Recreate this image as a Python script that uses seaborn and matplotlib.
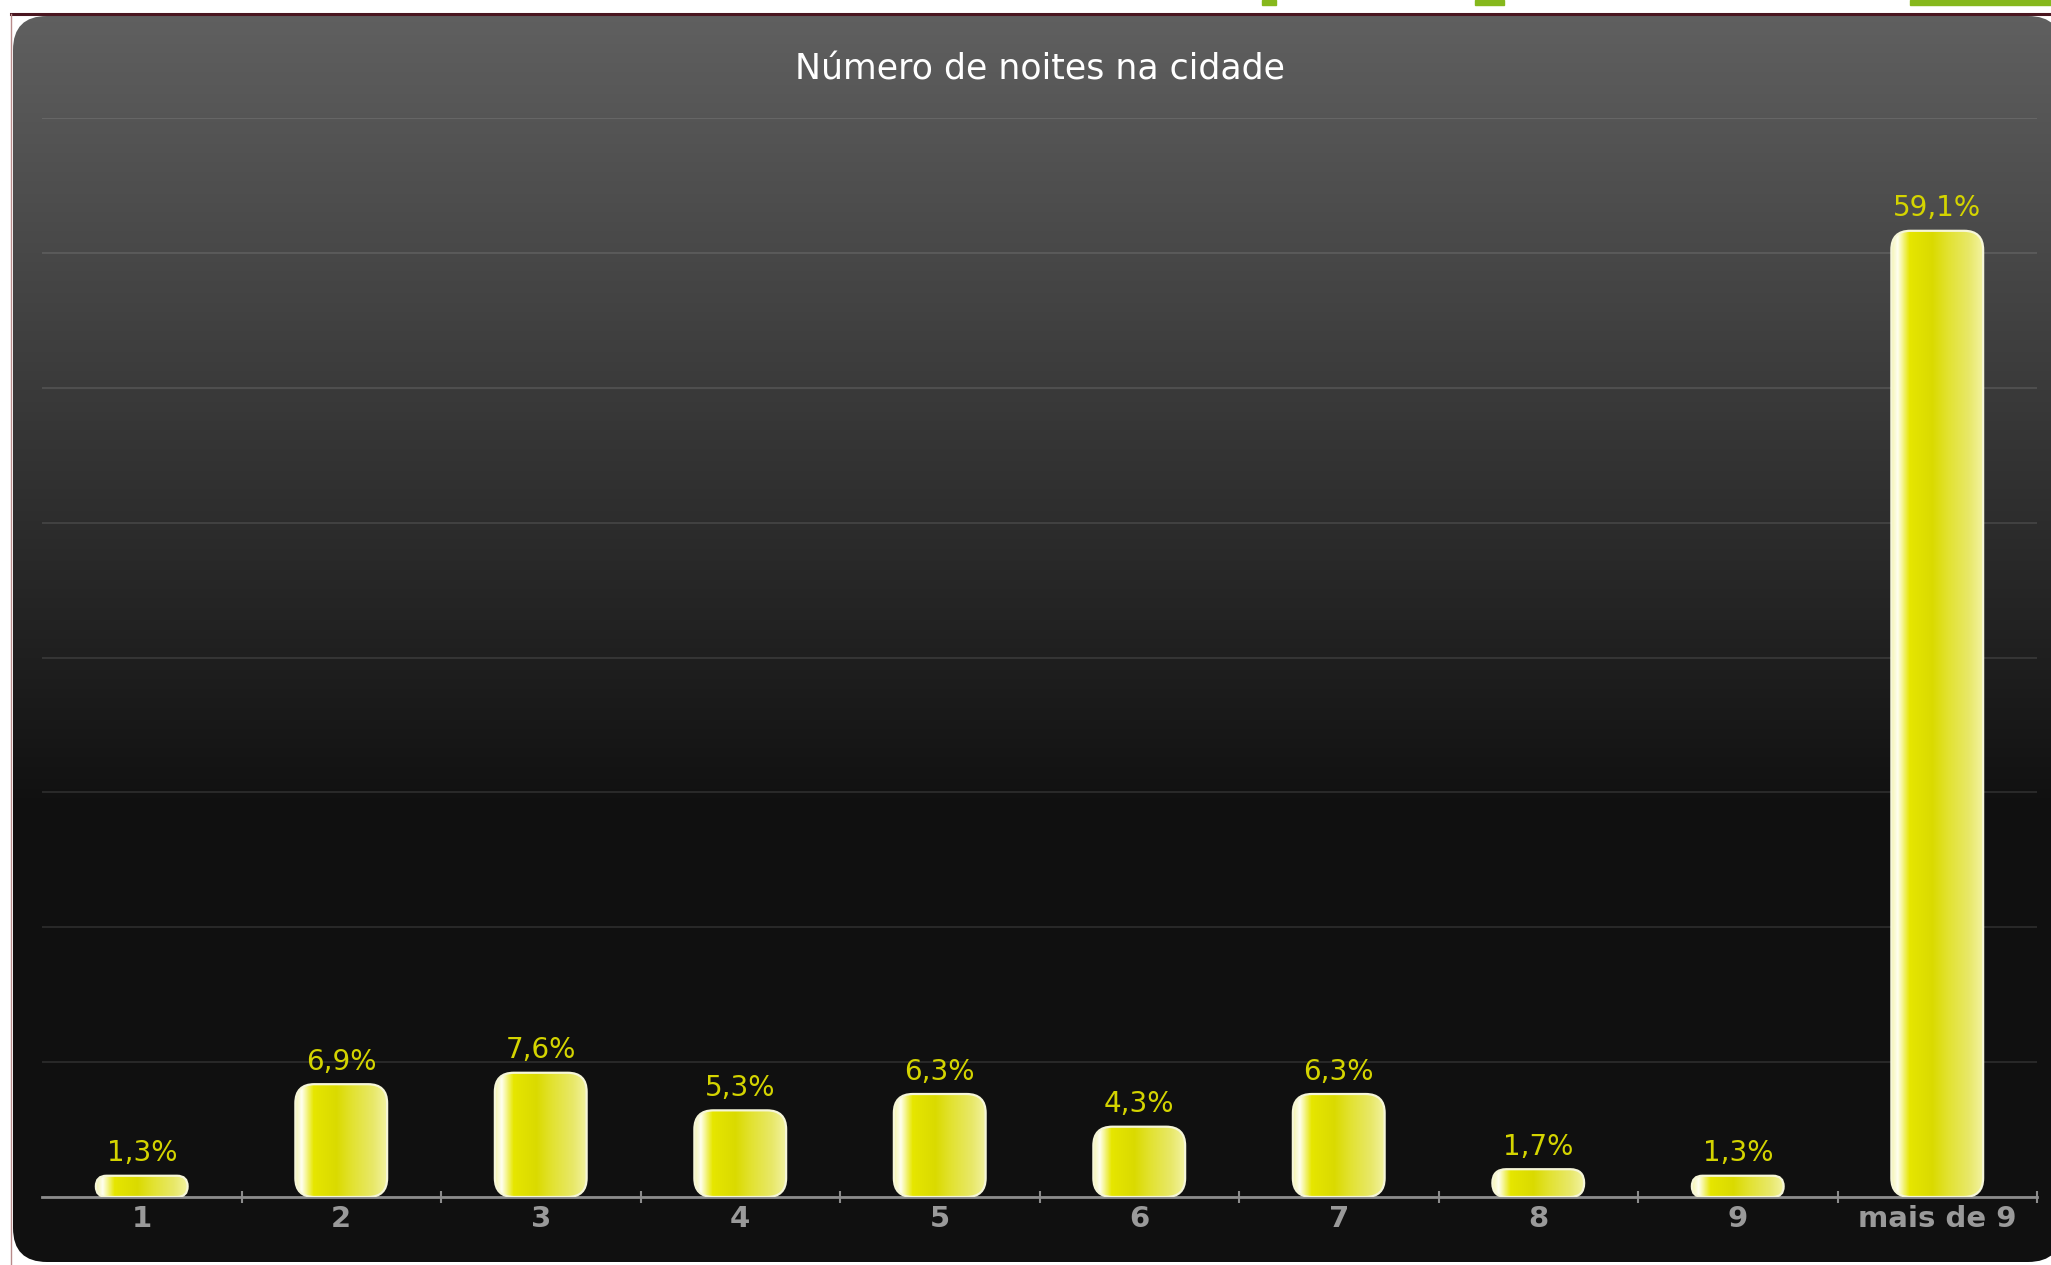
import numpy as np
import pandas as pd
import matplotlib
matplotlib.use("Agg")
import matplotlib.pyplot as plt
import seaborn as sns
from matplotlib.patches import FancyBboxPatch, Rectangle
from matplotlib.colors import LinearSegmentedColormap

# dados
categorias = ["1", "2", "3", "4", "5", "6", "7", "8", "9", "mais de 9"]
percentuais = [1.3, 6.9, 7.6, 5.3, 6.3, 4.3, 6.3, 1.7, 1.3, 59.1]
rotulos = [f"{v:.1f}%".replace(".", ",") for v in percentuais]
titulo = "Número de noites na cidade"

W, H = 2051, 1265
fig = plt.figure(figsize=(W / 100, H / 100), dpi=100)
fig.patch.set_facecolor("white")

# camada de fundo em coordenadas de pixel
bg = fig.add_axes([0, 0, 1, 1])
bg.set_xlim(0, W)
bg.set_ylim(H, 0)
bg.axis("off")

box_l, box_t, box_r, box_b = 13, 16, 2062, 1262
ys = np.linspace(box_t, box_b, 400)
t = np.clip((ys - box_t) / (800 - box_t), 0, 1)
top, bot = np.array([0.375, 0.375, 0.375]), np.array([0.066, 0.066, 0.066])
grad = (top[None, :] * (1 - t[:, None]) + bot[None, :] * t[:, None])[:, None, :]
img = bg.imshow(grad, extent=[box_l, box_r, box_b, box_t], aspect="auto", zorder=1)
clip = FancyBboxPatch((box_l, box_t), box_r - box_l, box_b - box_t,
                      boxstyle="round,pad=0,rounding_size=34",
                      facecolor="none", edgecolor="none", transform=bg.transData)
bg.add_patch(clip)
img.set_clip_path(clip)
bg.set_xlim(0, W)
bg.set_ylim(H, 0)

# bordas da página
bg.plot([11, W], [14, 14], color="#4a1620", lw=2.2, zorder=3)
bg.plot([11, 11], [14, H], color="#b88a8a", lw=1.0, zorder=3)
for x0, x1 in [(1262, 1276), (1475, 1504), (1910, 2051)]:
    bg.add_patch(Rectangle((x0, 0), x1 - x0, 5, color="#86b81c", zorder=3))
bg.text(1040, 70, titulo, color="white", fontsize=25,
        ha="center", va="center", zorder=4)

# gráfico de barras
ax = fig.add_axes([42 / W, (H - 1197) / H, 1995 / W, (1197 - 118) / H])
ax.patch.set_alpha(0)
df = pd.DataFrame({"noites": categorias, "pct": percentuais})
sns.barplot(data=df, x="noites", y="pct", order=categorias, width=0.46,
            color="#dede00", ax=ax, zorder=2)
ax.set_xlim(-0.5, 9.5)
ax.set_ylim(0, 66)

p0 = ax.transData.transform((0, 0))
p1 = ax.transData.transform((1, 1))
px, py = p1[0] - p0[0], p1[1] - p0[1]

cmap_barra = LinearSegmentedColormap.from_list("barra", [
    (0.00, "#f4f4b0"), (0.07, "#fffff0"), (0.20, "#e6e600"), (0.45, "#dada00"),
    (0.62, "#e2e230"), (0.85, "#e8e868"), (1.00, "#f2f2a0")])
faixa = cmap_barra(np.linspace(0, 1, 200))[None, :, :]

for rect, rot in zip(list(ax.patches), rotulos):
    x0, w, h = rect.get_x(), rect.get_width(), rect.get_height()
    rect.set_visible(False)
    r_px = min(19, h * py / 2)
    barra = FancyBboxPatch((x0, 0), w, h,
                           boxstyle=f"round,pad=0,rounding_size={r_px / px}",
                           mutation_aspect=px / py, facecolor="none",
                           edgecolor="#f6f6d8", lw=1.6, zorder=3)
    ax.add_patch(barra)
    im = ax.imshow(faixa, extent=[x0, x0 + w, 0, h], aspect="auto", zorder=2.5)
    im.set_clip_path(barra)
    ax.annotate(rot, (x0 + w / 2, h), xytext=(0, 6), textcoords="offset points",
                ha="center", va="bottom", color="#d4d400", fontsize=20, zorder=4)

ax.set_xlim(-0.5, 9.5)
ax.set_ylim(0, 66)
ax.set_yticks(np.arange(0, 66.01, 8.25))
ax.yaxis.grid(True, color="white", alpha=0.1, lw=1.5)
ax.set_axisbelow(True)
ax.tick_params(axis="y", left=False, labelleft=False)
ax.set_xticks(range(len(categorias)))
ax.set_xticklabels(categorias)
ax.set_xticks(np.arange(0.5, 9.6, 1), minor=True)
ax.tick_params(axis="x", which="major", length=0, pad=6, labelsize=21,
               labelcolor="#9a9a9a")
ax.tick_params(axis="x", which="minor", length=8, width=1.5, color="#8c8c8c",
               direction="inout")
for lab in ax.get_xticklabels():
    lab.set_fontweight("bold")
ax.set_xlabel("")
ax.set_ylabel("")
for s in ["top", "left", "right"]:
    ax.spines[s].set_visible(False)
ax.spines["bottom"].set_color("#8c8c8c")
ax.spines["bottom"].set_linewidth(2)

fig.savefig("out.png", dpi=100)
